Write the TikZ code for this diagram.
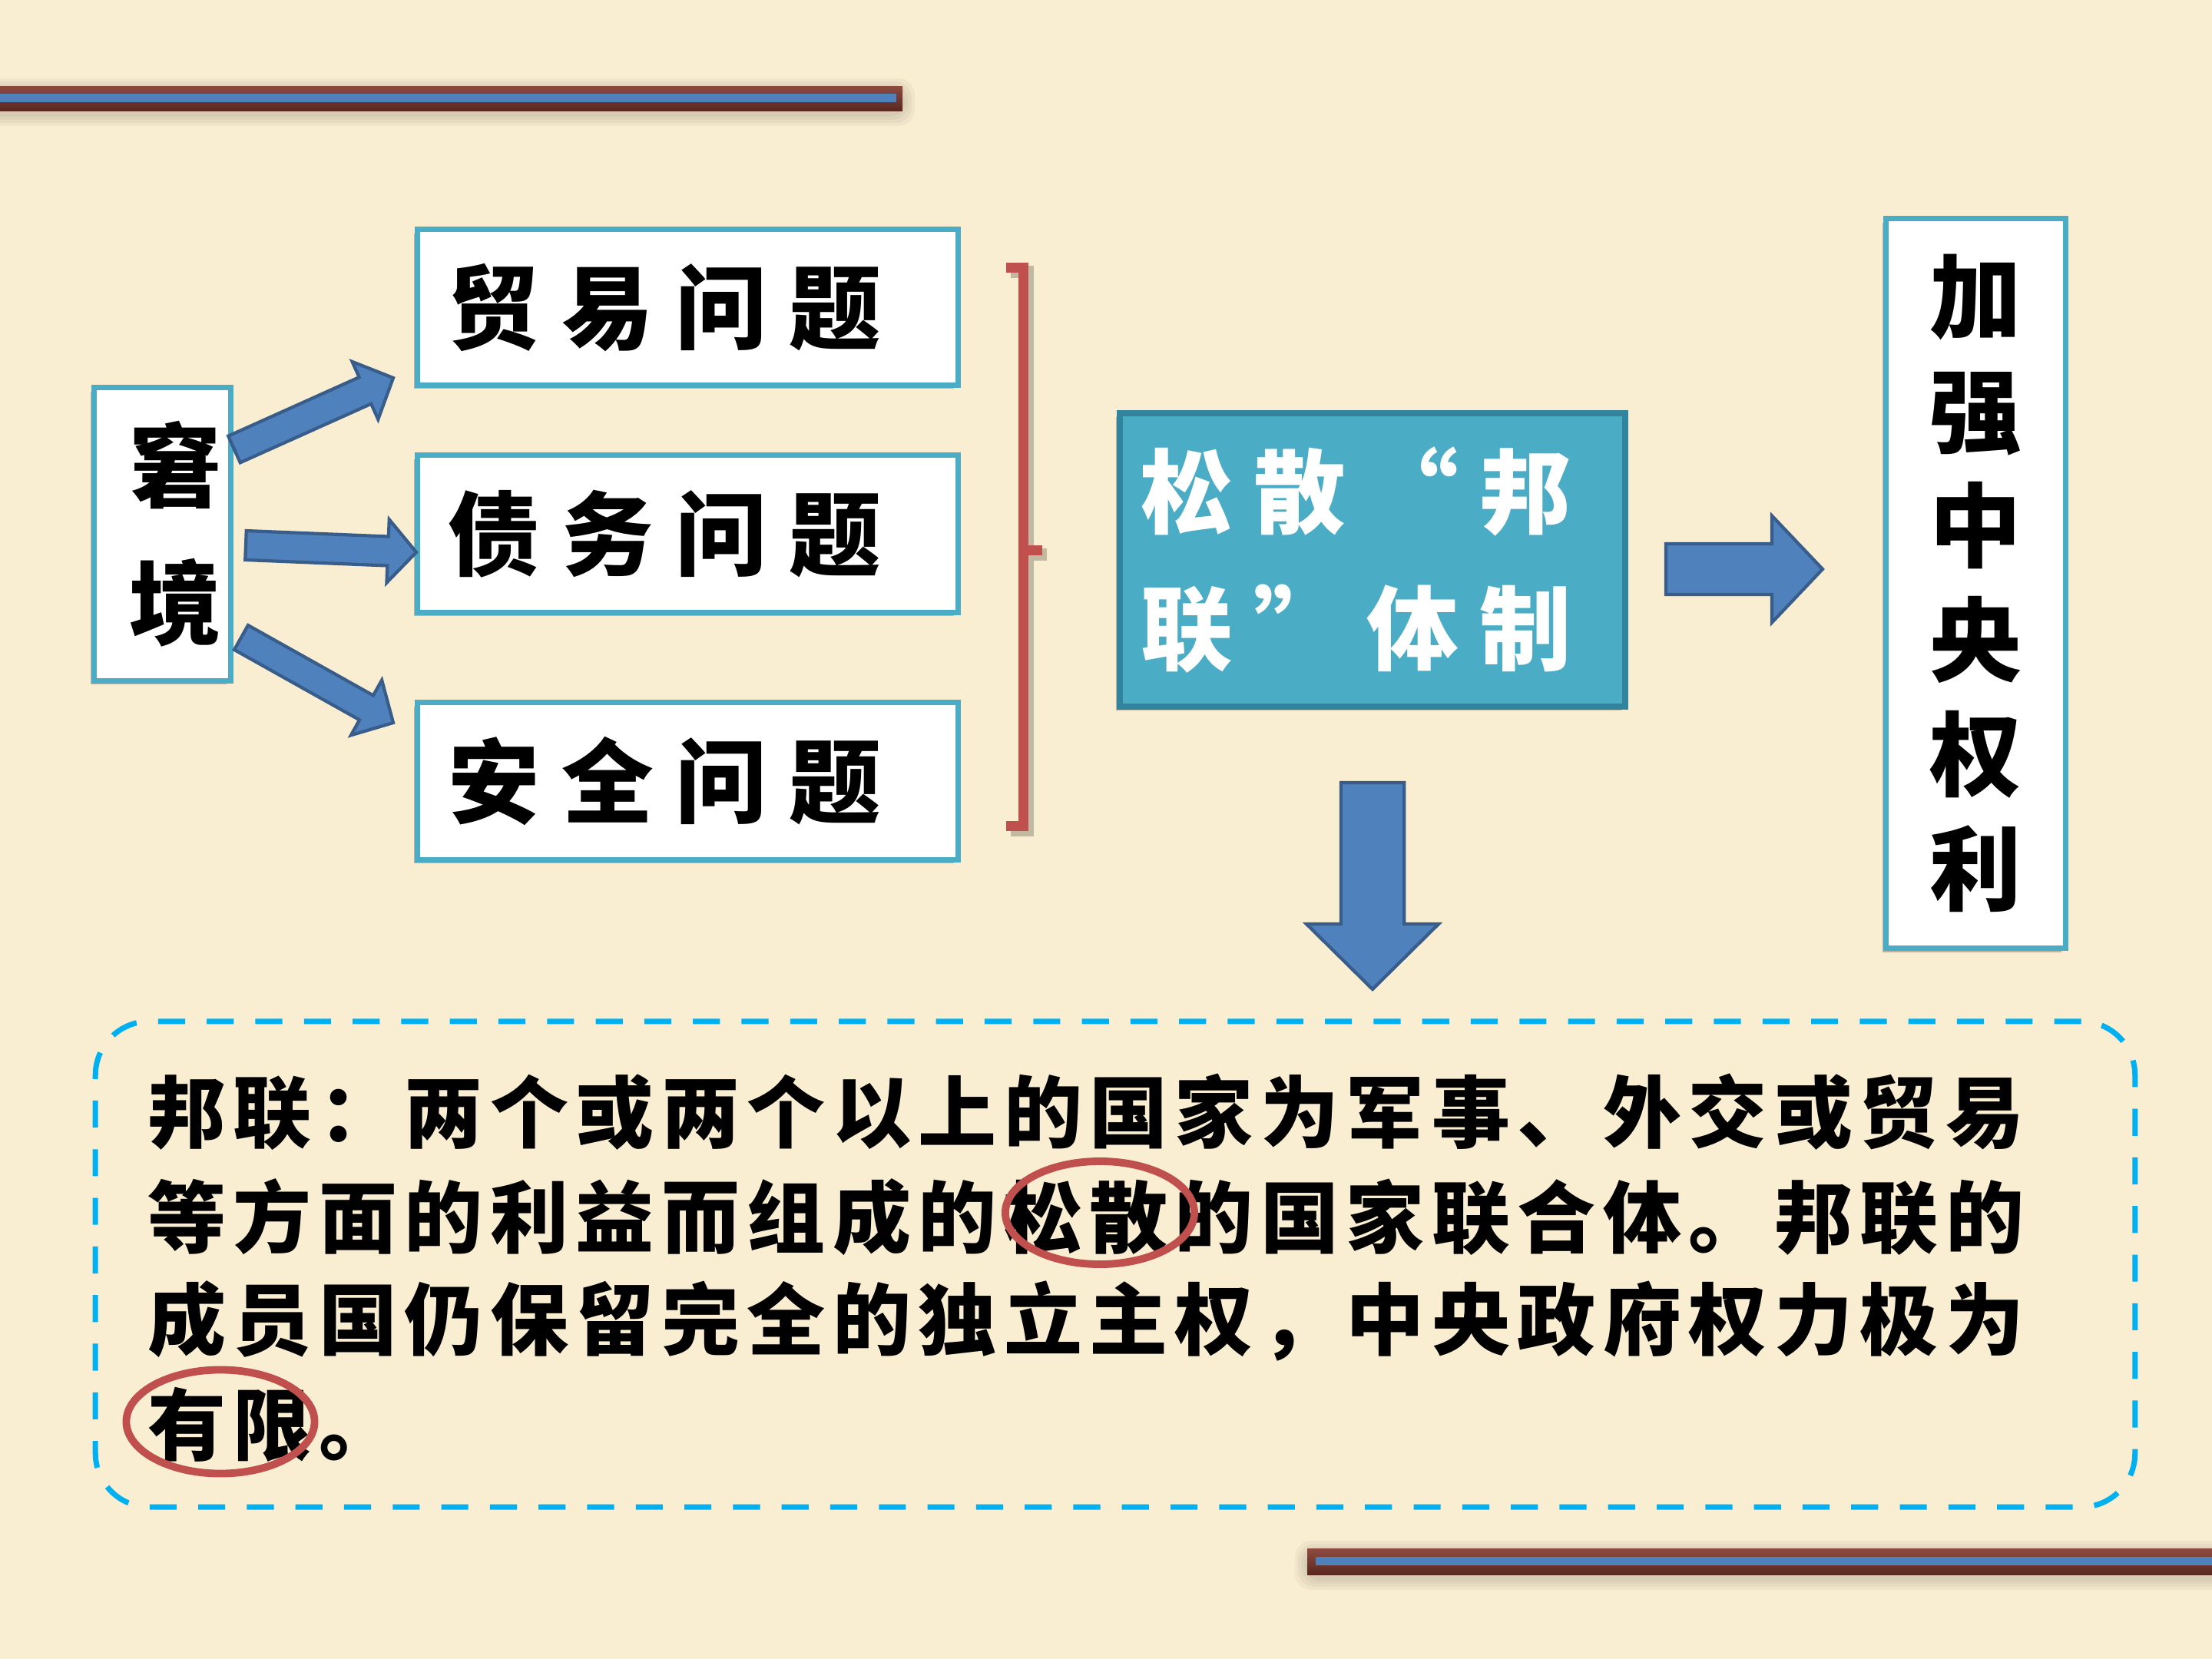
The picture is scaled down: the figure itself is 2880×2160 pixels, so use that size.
\documentclass[tikz,border=0pt]{standalone}
\usepackage{fontspec}
\newfontfamily\cjk{Noto Sans CJK SC}
\usetikzlibrary{calc,shadows,shapes.geometric}
\definecolor{bgc}{HTML}{F9EED2}
\definecolor{boxteal}{HTML}{4BACC6}
\definecolor{boxtealdk}{HTML}{31849B}
\definecolor{arrfill}{HTML}{4F81BD}
\definecolor{arrline}{HTML}{385D8A}
\definecolor{markred}{HTML}{C0504D}
\definecolor{dashblue}{HTML}{00B0F0}
\definecolor{barTop}{HTML}{8E4B40}
\definecolor{barBot}{HTML}{5A2820}
\definecolor{barBlue}{HTML}{4F81BD}
\newcommand\cjkcells[2]{\hbox{\vrule width0pt height.88em depth.12em\def\cjkcellw{#1}\cjkcellsi#2\relax}}
\newcommand\cjkcellsi[1]{\ifx\relax#1\else\makebox[\cjkcellw]{#1}\expandafter\cjkcellsi\fi}
\newcommand\blockarrow[5]{%
  \coordinate (bah) at ($(#2)!#5!(#1)$);
  \draw[barrow] ($(#1)!#3!90:(#2)$) -- ($(bah)!#3!90:(#2)$) -- ($(bah)!#4!90:(#2)$) -- (#2)
    -- ($(bah)!#4!-90:(#2)$) -- ($(bah)!#3!-90:(#2)$) -- ($(#1)!#3!-90:(#2)$) -- cycle;}
\tikzset{
  whitebox/.style={draw=boxteal, line width=2pt, fill=white, inner sep=0pt,
    drop shadow={shadow xshift=-1.5pt, shadow yshift=-1.5pt, opacity=0.35, fill=black!70}},
  bluebox/.style={draw=boxtealdk, line width=2.3pt, fill=boxteal, inner sep=0pt, text=white,
    drop shadow={shadow xshift=-1.5pt, shadow yshift=-1.5pt, opacity=0.35, fill=black!70}},
  bigtext/.style={font=\cjk\bfseries\fontsize{34pt}{#1}\selectfont},
  paratext/.style={font=\cjk\bfseries\fontsize{29pt}{29pt}\selectfont, inner sep=0pt, anchor=west},
  barrow/.style={fill=arrfill, draw=arrline, line width=1.2pt, line join=miter},
  dashbox/.style={draw=dashblue, line width=2pt, dash pattern=on 10pt off 8pt, rounded corners=0.7cm, inner sep=0pt},
  ring/.style={ellipse, draw=markred, line width=2.8pt, inner sep=0pt},
  barshadow/.style={black, opacity=.035, rounded corners=6pt},
}
\begin{document}
\begin{tikzpicture}[x=0.01cm,y=-0.01cm]
\useasboundingbox (0,0) rectangle (2880,2160);
\fill[bgc] (0,0) rectangle (2880,2160);
% top bar
\foreach \d in {16,12,8,4}{\fill[barshadow] (-20,112-\d+6) rectangle (1175+\d,144+\d+4);}
\shade[top color=barTop,bottom color=barBot] (0,112) rectangle (1175,144);
\fill[barBlue] (0,122) rectangle (1167,133);
% bottom bar
\foreach \d in {16,12,8,4}{\fill[barshadow] (1702-\d,2016-\d+6) rectangle (2900,2050+\d+4);}
\shade[top color=barTop,bottom color=barBot] (1702,2016) rectangle (2880,2050);
\fill[barBlue] (1713,2027) rectangle (2880,2038);
% boxes
\node[whitebox, bigtext=1.79cm, align=center, minimum width=1.77cm, minimum height=3.81cm] (jj) at (211.5,695.5)
  {\mbox{\kern0.34cm 窘}\\\mbox{\kern0.34cm 境}};
\node[whitebox, bigtext=34pt, minimum width=7.03cm, minimum height=2.02cm] (p1) at (895.5,400)
  {\cjkcells{1.48cm}{贸易问题}\kern0.6cm};
\node[whitebox, bigtext=34pt, minimum width=7.03cm, minimum height=2.04cm] (p2) at (895.5,695)
  {\cjkcells{1.48cm}{债务问题}\kern0.6cm};
\node[whitebox, bigtext=34pt, minimum width=7.03cm, minimum height=2.04cm] (p3) at (895.5,1017)
  {\cjkcells{1.48cm}{安全问题}\kern0.6cm};
\node[bluebox, bigtext=1.78cm, align=center, minimum width=6.58cm, minimum height=3.82cm] (lj) at (1787,729)
  {\mbox{\cjkcells{1.47cm}{松散“邦}\kern0.42cm}\\\mbox{\cjkcells{1.47cm}{联”体制}\kern0.42cm}};
\node[whitebox, bigtext=1.49cm, align=center, minimum width=2.33cm, minimum height=9.49cm] (qz) at (2572.5,759.5)
  {加\\强\\中\\央\\权\\利};
% brace
\draw[black, opacity=.22, line width=4.5pt] (1316,354) -- (1338,354) -- (1338,1081) -- (1316,1081) (1338,722) -- (1363,722);
\draw[markred, line width=3.7pt] (1310,348) -- (1332,348) -- (1332,1075) -- (1310,1075) (1332,716) -- (1357,716);
% arrows
\coordinate (a1s) at (305,585); \coordinate (a1e) at (512,492);
\coordinate (a2s) at (320,710); \coordinate (a2e) at (542,719);
\coordinate (a3s) at (314,830); \coordinate (a3e) at (512,941);
\coordinate (a4s) at (2169,741); \coordinate (a4e) at (2373,741);
\coordinate (a5s) at (1787,1019); \coordinate (a5e) at (1787,1288);
\blockarrow{a1s}{a1e}{5.4pt}{11.7pt}{11.4pt}
\blockarrow{a2s}{a2e}{5.4pt}{11.7pt}{10.5pt}
\blockarrow{a3s}{a3e}{5.2pt}{11.7pt}{11.4pt}
\blockarrow{a4s}{a4e}{9.4pt}{19.8pt}{18.8pt}
\blockarrow{a5s}{a5e}{11.7pt}{24.5pt}{24.2pt}
% definition box
\node[dashbox, minimum width=26.54cm, minimum height=6.32cm] (def) at (1452,1646) {};
\node[paratext] (t1) at (187,1448) {\cjkcells{1.114cm}{邦联：两个或两个以上的国家为军事、外交或贸易}};
\node[paratext] (t2) at (187,1585) {\cjkcells{1.114cm}{等方面的利益而组成的松散的国家联合体。邦联的}};
\node[paratext] (t3) at (187,1720) {\cjkcells{1.114cm}{成员国仍保留完全的独立主权，中央政府权力极为}};
\node[paratext] (t4) at (187,1855) {\cjkcells{1.114cm}{有限。}};
\node[ring, minimum width=2.46cm, minimum height=1.34cm] (o1) at (1432,1579) {};
\node[ring, minimum width=2.45cm, minimum height=1.35cm] (o2) at (287,1851) {};
\end{tikzpicture}
\end{document}
